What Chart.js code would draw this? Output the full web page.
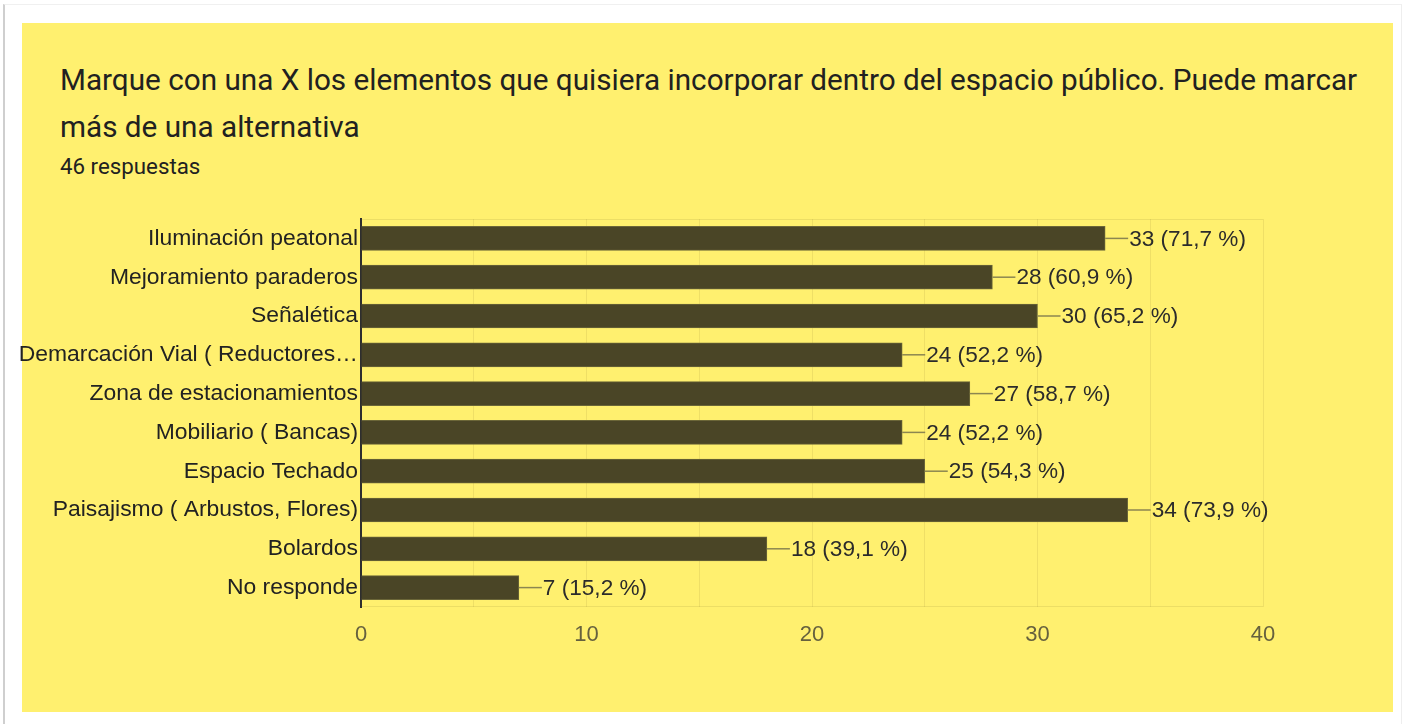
<!DOCTYPE html>
<html>
<head>
<meta charset="utf-8">
<script src="https://cdn.jsdelivr.net/npm/chart.js@4.4.1/dist/chart.umd.min.js"></script>
<style>
  html, body { margin: 0; padding: 0; background: #fff; }
  body { width: 1407px; height: 724px; position: relative; overflow: hidden; font-family: Roboto, sans-serif; }
  #frame { position: absolute; left: 3px; top: 4px; width: 1396px; height: 730px;
           border-left: 2px solid #cfcfcf; border-top: 1px solid #f0f0f0; border-right: 1px solid #eeeeee; }
  #panel { position: absolute; left: 22px; top: 23px; width: 1371px; height: 689px; background: #fff06f; }
  #title { position: absolute; left: 60px; top: 56px; width: 1330px; font-size: 29.7px; line-height: 47px; color: #212121; }
  #sub { position: absolute; left: 60px; top: 152px; font-size: 22.3px; line-height: 28px; color: #212121; }
  #wrap { position: absolute; left: 0; top: 190px; width: 1407px; height: 480px; }
</style>
</head>
<body>
<div id="frame"></div>
<div id="panel"></div>
<div id="title">Marque con una X los elementos que quisiera incorporar dentro del espacio público. Puede marcar más de una alternativa</div>
<div id="sub">46 respuestas</div>
<div id="wrap"><canvas id="chart"></canvas></div>
<script>
  // ── data ──────────────────────────────────────────────────────────────────
  const categories = [
    "Iluminación peatonal",
    "Mejoramiento paraderos",
    "Señalética",
    "Demarcación Vial ( Reductores…",
    "Zona de estacionamientos",
    "Mobiliario ( Bancas)",
    "Espacio Techado",
    "Paisajismo ( Arbustos, Flores)",
    "Bolardos",
    "No responde"
  ];
  const counts   = [33, 28, 30, 24, 27, 24, 25, 34, 18, 7];
  const percents = ["71,7", "60,9", "65,2", "52,2", "58,7", "52,2", "54,3", "73,9", "39,1", "15,2"];
  const xTicks   = [0, 10, 20, 30, 40];

  const BAR = "#4a4526";
  const LABEL_FONT = "'Liberation Sans', Arial, sans-serif";

  // value labels with a short leader line after each bar, plus the faint plot frame
  const valueLabels = {
    id: "valueLabels",
    beforeDatasetsDraw(chart) {
      const { ctx, chartArea: a } = chart;
      ctx.save();
      ctx.strokeStyle = "rgba(120,110,40,0.14)";
      ctx.lineWidth = 1;
      ctx.beginPath();
      ctx.moveTo(a.left, a.top + 0.5); ctx.lineTo(a.right, a.top + 0.5);
      ctx.moveTo(a.left, a.bottom - 0.5); ctx.lineTo(a.right, a.bottom - 0.5);
      ctx.stroke();
      ctx.restore();
    },
    afterDatasetsDraw(chart) {
      const { ctx } = chart;
      const meta = chart.getDatasetMeta(0);
      ctx.save();
      meta.data.forEach((bar, i) => {
        const x = bar.x, y = bar.y;
        ctx.strokeStyle = "#8c8650";
        ctx.lineWidth = 1.5;
        ctx.beginPath(); ctx.moveTo(x, y); ctx.lineTo(x + 23, y); ctx.stroke();
        ctx.fillStyle = "#2b2b2b";
        ctx.font = "22.6px " + LABEL_FONT;
        ctx.textBaseline = "middle";
        ctx.textAlign = "left";
        ctx.fillText(`${counts[i]} (${percents[i]} %)`, x + 24, y + 1);
      });
      ctx.restore();
    }
  };

  new Chart(document.getElementById("chart"), {
    type: "bar",
    data: {
      labels: categories,
      datasets: [{
        data: counts,
        backgroundColor: BAR,
        borderColor: "#6b6638",
        borderWidth: 1,
        barThickness: 24
      }]
    },
    options: {
      indexAxis: "y",
      responsive: true,
      maintainAspectRatio: false,
      animation: false,
      layout: { padding: { top: 29, right: 144, left: 0, bottom: 0 } },
      plugins: { legend: { display: false }, tooltip: { enabled: false } },
      scales: {
        x: {
          min: 0, max: 40,
          afterFit(s) { s.height = 63; },
          grid: { color: "rgba(120,110,40,0.12)", drawTicks: false },
          border: { display: false },
          ticks: {
            stepSize: 5,
            padding: 15,
            color: "#66613e",
            font: { family: LABEL_FONT, size: 22 },
            callback: v => (xTicks.includes(v) ? String(v) : "")
          }
        },
        y: {
          afterFit(s) { s.width = 361; },
          grid: { display: false, drawTicks: false },
          border: { display: true, color: "#2e2e2e", width: 2 },
          ticks: {
            padding: 3,
            color: "#222",
            font: { family: LABEL_FONT, size: 22.9 }
          }
        }
      }
    },
    plugins: [valueLabels]
  });
</script>
</body>
</html>
